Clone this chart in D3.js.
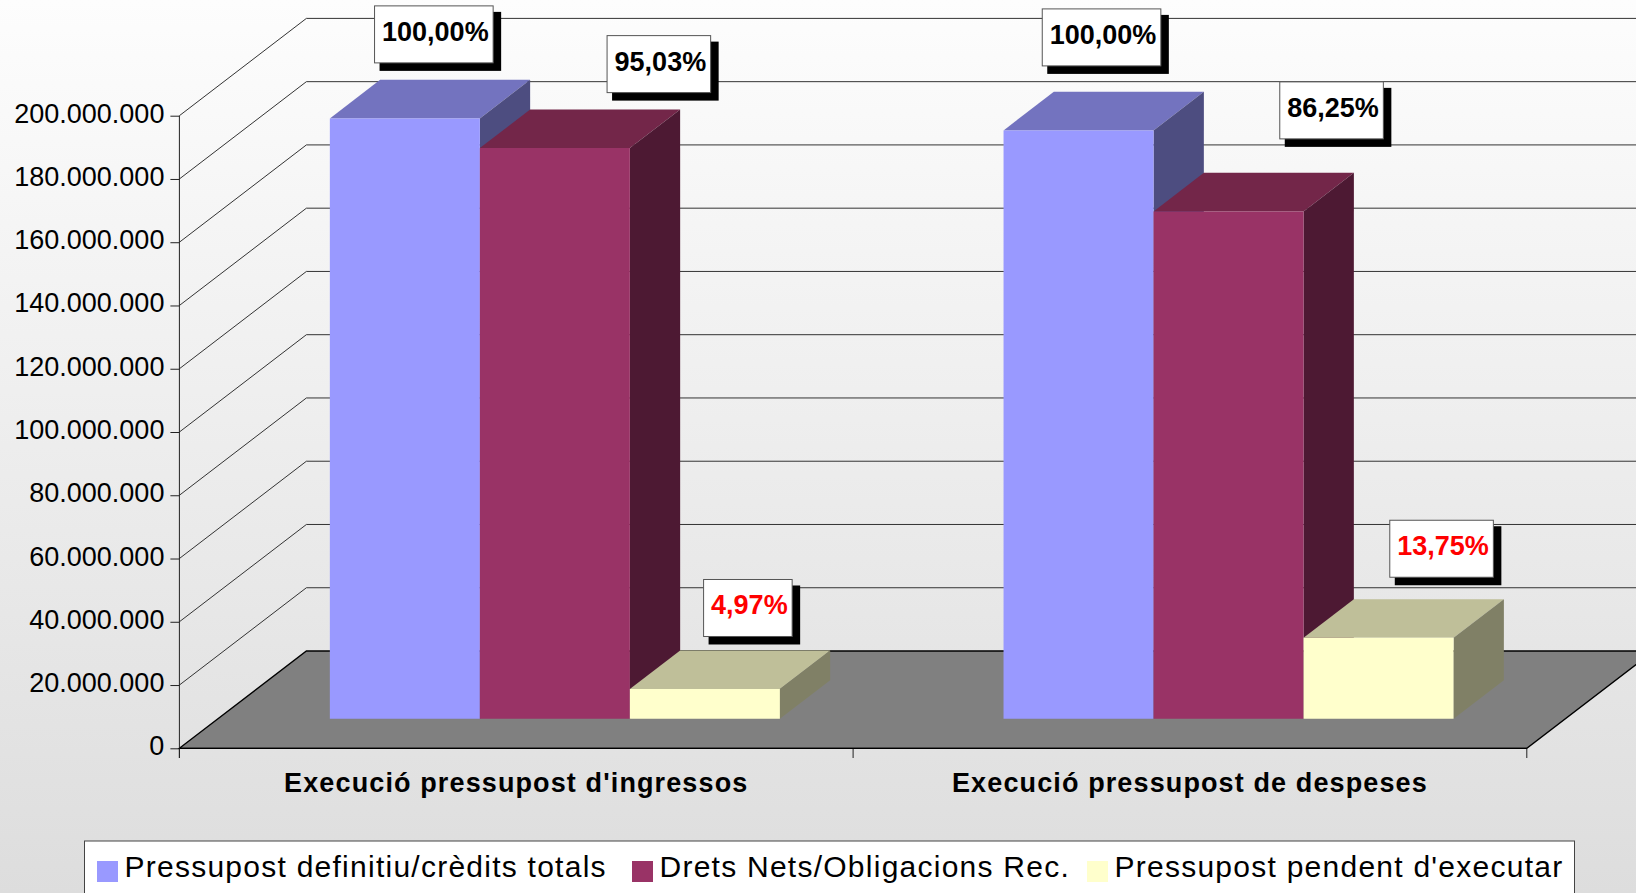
<!DOCTYPE html>
<html>
<head>
<meta charset="utf-8">
<script src="https://cdn.jsdelivr.net/npm/d3@7"></script>
<style>
  html, body { margin: 0; padding: 0; background: #fff; overflow: hidden; }
  svg { display: block; }
  text { font-family: "Liberation Sans", Arial, sans-serif; fill: #000; }
</style>
</head>
<body>
<svg class="chart" width="1636" height="893"></svg>
<script>
// data
var categories = ["Execució pressupost d'ingressos", "Execució pressupost de despeses"];
var seriesNames = ["Pressupost definitiu/crèdits totals", "Drets Nets/Obligacions Rec.", "Pressupost pendent d'executar"];
var ingressos = [189800000, 180400000, 9400000];
var despeses = [186000000, 160400000, 25600000];
var percentLabels = [["100,00%", "95,03%", "4,97%"], ["100,00%", "86,25%", "13,75%"]];
var yTicks = [0, 20000000, 40000000, 60000000, 80000000, 100000000, 120000000, 140000000, 160000000, 180000000, 200000000];

// colours per series: front, top, side
var colors = [
    ["#9999ff", "#7373bf", "#4d4d80"],
    ["#993366", "#732649", "#4d1933"],
    ["#ffffcc", "#bfbf99", "#808066"]
];
var labelColors = ["#000", "#000", "#f00"];

// where each percent box sits, relative to the top of its bar
var labelDx = [[29, 104, 43], [23, 103, 63]];
var labelDy = [[-84, -84, -81], [-93, -101, -89]];

var svg = d3.select(".chart"),
    width = +svg.attr("width"),
    height = +svg.attr("height");

// background
var grad = svg.append("defs").append("linearGradient")
    .attr("id", "bg").attr("x1", 0).attr("y1", 0).attr("x2", 0).attr("y2", 1);
grad.append("stop").attr("offset", 0).attr("stop-color", "#fdfdfd");
grad.append("stop").attr("offset", 1).attr("stop-color", "#dddddd");
svg.append("rect").attr("width", width).attr("height", height).attr("fill", "url(#bg)");

// scales
var x0 = d3.scaleBand().domain(categories).range([179.4, 1526.8]).paddingInner(0.332).paddingOuter(0.166);
var x1 = d3.scaleBand().domain(seriesNames).range([0, x0.bandwidth()]);
var y = d3.scaleLinear().domain([0, 200000000]).range([748.3, 115.7]);
// depth goes from the front of the floor (0) to the back wall (1)
var depthX = d3.scaleLinear().domain([0, 1]).range([0, 127]);
var depthY = d3.scaleLinear().domain([0, 1]).range([0, -97.3]);
var barFront = 0.304, barBack = 0.70;

function pt(px, value, z) {
    return [px + depthX(z), y(value) + depthY(z)];
}
var poly = d3.line();

// floor
var left = x0.range()[0], right = x0.range()[1];
svg.append("path")
    .attr("d", poly([pt(left, 0, 0), pt(left, 0, 1), pt(right, 0, 1), pt(right, 0, 0)]) + "Z")
    .attr("fill", "#808080")
    .attr("stroke", "#000")
    .attr("stroke-width", 1.3);

// grid lines, side wall and back wall
svg.append("g").selectAll("path")
    .data(yTicks.slice(1))
    .enter().append("path")
    .attr("d", function(d) { return poly([pt(left, d, 0), pt(left, d, 1), pt(right, d, 1)]); })
    .attr("fill", "none")
    .attr("stroke", "#333")
    .attr("stroke-width", 1);

// y axis
var fmt = d3.formatLocale({decimal: ",", thousands: ".", grouping: [3], currency: ["", ""]}).format(",d");
var yAxis = svg.append("g")
    .attr("transform", "translate(" + left + ",0)")
    .call(d3.axisLeft(y).tickValues(yTicks).tickFormat(fmt).tickSize(9).tickPadding(6));
yAxis.select(".domain").attr("d", "M0," + y(200000000) + "V758").attr("stroke", "#222");
yAxis.selectAll(".tick line").attr("stroke", "#222");
yAxis.selectAll("text").style("font-family", '"Liberation Sans"').style("font-size", "27px").attr("fill", "#000").attr("dy", "0.24em");

// x axis
var xEdges = [left, (left + right) / 2, right];
svg.append("g").selectAll("line")
    .data(xEdges)
    .enter().append("line")
    .attr("x1", function(d) { return d; }).attr("x2", function(d) { return d; })
    .attr("y1", y(0)).attr("y2", 758)
    .attr("stroke", "#222");
svg.append("line").attr("x1", left).attr("x2", right).attr("y1", y(0)).attr("y2", y(0)).attr("stroke", "#000").attr("stroke-width", 1.3);

svg.append("g").selectAll("text")
    .data(categories)
    .enter().append("text")
    .attr("x", function(d) { return x0(d) + x0.bandwidth() / 2; })
    .attr("y", 792)
    .attr("text-anchor", "middle")
    .style("font-size", "27px")
    .style("font-weight", "bold")
    .style("letter-spacing", "1.12px")
    .text(function(d) { return d; });

// bars
var groups = [ingressos, despeses];
var gBars = svg.append("g");
groups.forEach(function(vals, gi) {
    vals.forEach(function(v, si) {
        var c = colors[si];
        var a = x0(categories[gi]) + x1(seriesNames[si]);
        var b = a + x1.bandwidth();
        var top = [pt(a, v, barFront), pt(a, v, barBack), pt(b, v, barBack), pt(b, v, barFront)];
        var side = [pt(b, v, barFront), pt(b, v, barBack), pt(b, 0, barBack), pt(b, 0, barFront)];
        var front = [pt(a, v, barFront), pt(b, v, barFront), pt(b, 0, barFront), pt(a, 0, barFront)];
        gBars.append("path").attr("d", poly(top) + "Z").attr("fill", c[1]);
        gBars.append("path").attr("d", poly(side) + "Z").attr("fill", c[2]);
        gBars.append("path").attr("d", poly(front) + "Z").attr("fill", c[0]);
    });
});

// percent boxes
var gLabels = svg.append("g");
groups.forEach(function(vals, gi) {
    vals.forEach(function(v, si) {
        var cx = x0(categories[gi]) + x1(seriesNames[si]) + x1.bandwidth() / 2 + depthX(barFront) + labelDx[gi][si];
        var cy = y(v) + depthY(barFront) + labelDy[gi][si];
        var g = gLabels.append("g").attr("transform", "translate(" + cx + "," + cy + ")");
        var t = g.append("text")
            .attr("text-anchor", "middle")
            .attr("x", 1.5)
            .attr("dy", "0.24em")
            .style("font-size", "27px")
            .style("font-weight", "bold")
            .style("fill", labelColors[si])
            .text(percentLabels[gi][si]);
        var w = t.node().getComputedTextLength() + 12, h = 57;
        g.insert("rect", "text").attr("x", -w / 2).attr("y", -h / 2).attr("width", w).attr("height", h).attr("fill", "#fff").attr("stroke", "#555");
        g.insert("rect", "rect").attr("x", -w / 2 + 5).attr("y", -h / 2 + 6).attr("width", w + 3).attr("height", h + 2).attr("fill", "#000");
    });
});

// legend
var legend = svg.append("g");
legend.append("rect").attr("x", 84.5).attr("y", 841).attr("width", 1490).attr("height", 70).attr("fill", "#fff").attr("stroke", "#444");
var legendX = [97, 632, 1087];
seriesNames.forEach(function(name, i) {
    legend.append("rect").attr("x", legendX[i]).attr("y", 861).attr("width", 21).attr("height", 21).attr("fill", colors[i][0]);
    legend.append("text").attr("x", legendX[i] + 27.5).attr("y", 877)
        .style("font-size", "30px")
        .style("letter-spacing", "1.25px")
        .text(name);
});
</script>
</body>
</html>
